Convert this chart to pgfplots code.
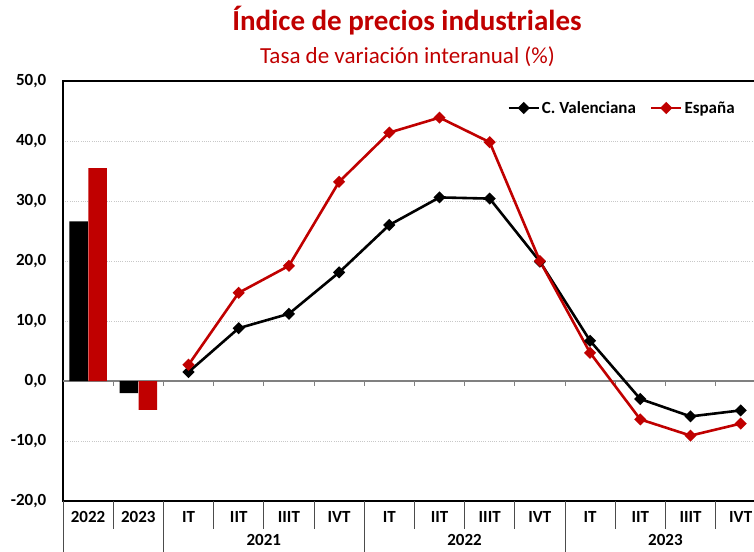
\documentclass[border=0pt]{standalone}
\usepackage{fontspec}
\setmainfont{Carlito}
\usepackage{pgfplots}
\pgfplotsset{compat=1.18}
\definecolor{rojo}{HTML}{C00000}
\definecolor{rejilla}{HTML}{C8C8C8}
\newcommand{\tickfont}{\fontsize{17}{20}\selectfont\bfseries}

\begin{document}
\begin{tikzpicture}
\useasboundingbox (-63pt,-50pt) rectangle (691pt,501pt);
\clip (-63pt,-50pt) rectangle (691pt,501pt);
\begin{axis}[
  at={(0pt,0pt)}, anchor=south west,
  scale only axis,
  width=702.8pt, height=420pt,
  clip=false,
  xmin=-0.5, xmax=13.5,
  ymin=-20, ymax=50,
  ytick={-20,-10,...,50},
  yticklabel={\pgfmathprintnumber[fixed,fixed zerofill,precision=1,use comma,assume math mode=true]{\tick}},
  yticklabel style={inner sep=0pt, xshift=-16.5pt},
  xtick={0,...,13},
  xticklabels={2022,2023,IT,IIT,IIIT,IVT,IT,IIT,IIIT,IVT,IT,IIT,IIIT,IVT},
  xticklabel style={anchor=base, yshift=-21pt},
  major tick length=0pt,
  ymajorgrids,
  major grid style={dash pattern=on 1pt off 1.2pt, line width=1pt, rejilla},
  axis line style={black, line width=1.1pt},
  tick label style={font=\tickfont},
  legend style={draw=none, fill=none, at={(rel axis cs:0.632,0.9357)}, anchor=west,
    inner sep=0pt, font=\tickfont,
    /tikz/every even column/.append style={column sep=12pt}},
  legend columns=2,
  legend cell align=left,
  legend image code/.code={\draw[mark repeat=2,mark phase=2,#1] plot coordinates {(0pt,0pt) (15pt,0pt) (30pt,0pt)};},
]
% linea del cero y marcas
\draw[black!50, line width=1.4pt] (axis cs:-0.5,0) -- (axis cs:13.5,0);
\pgfplotsinvokeforeach{0.5,1.5,2.5,3.5,4.5,5.5,6.5,7.5,8.5,9.5,10.5,11.5,12.5}{
  \draw[black!50, line width=1pt] (axis cs:#1,0) -- ++(0pt,-5pt);
}
% separadores de categorias
\pgfplotsinvokeforeach{0.5,2.5,3.5,4.5,6.5,7.5,8.5,10.5,11.5,12.5}{
  \draw[black!70, line width=0.7pt] (axis cs:#1,-20) -- ++(0pt,-28pt);
}
\pgfplotsinvokeforeach{-0.5,1.5,5.5,9.5,13.5}{
  \draw[black!70, line width=0.7pt] (axis cs:#1,-20) -- ++(0pt,-60pt);
}
% barras anuales
\addplot[ybar, bar width=18.6pt, bar shift=-9.5pt, fill=black, draw=none, forget plot]
  coordinates {(0,26.6) (1,-2.0)};
\addplot[ybar, bar width=18.6pt, bar shift=9.5pt, fill=rojo, draw=none, forget plot]
  coordinates {(0,35.5) (1,-4.8)};
% trimestres
\addplot[black, line width=2.6pt, mark=square*, mark size=3pt, mark options={solid, rotate=45}]
  coordinates {(2,1.5) (3,8.8) (4,11.2) (5,18.1) (6,26.0) (7,30.6) (8,30.4) (9,19.9)
               (10,6.7) (11,-3.0) (12,-5.9) (13,-4.9)};
\addlegendentry{C. Valenciana}
\addplot[rojo, line width=2.6pt, mark=square*, mark size=3pt, mark options={solid, rotate=45}]
  coordinates {(2,2.7) (3,14.7) (4,19.2) (5,33.2) (6,41.4) (7,43.9) (8,39.8) (9,20.0)
               (10,4.7) (11,-6.4) (12,-9.1) (13,-7.1)};
\addlegendentry{España}
\node[font=\tickfont, anchor=base, inner sep=0pt, yshift=-44pt] at (axis cs:3.5,-20) {2021};
\node[font=\tickfont, anchor=base, inner sep=0pt, yshift=-44pt] at (axis cs:7.5,-20) {2022};
\node[font=\tickfont, anchor=base, inner sep=0pt, yshift=-44pt] at (axis cs:11.5,-20) {2023};
\end{axis}
\node[anchor=base, text=rojo, font=\fontsize{29}{33}\selectfont\bfseries] at (344pt,470pt) {Índice de precios industriales};
\node[anchor=base, text=rojo, font=\fontsize{23}{27}\selectfont] at (344.5pt,437.5pt) {Tasa de variación interanual (\%)};
\end{tikzpicture}
\end{document}
